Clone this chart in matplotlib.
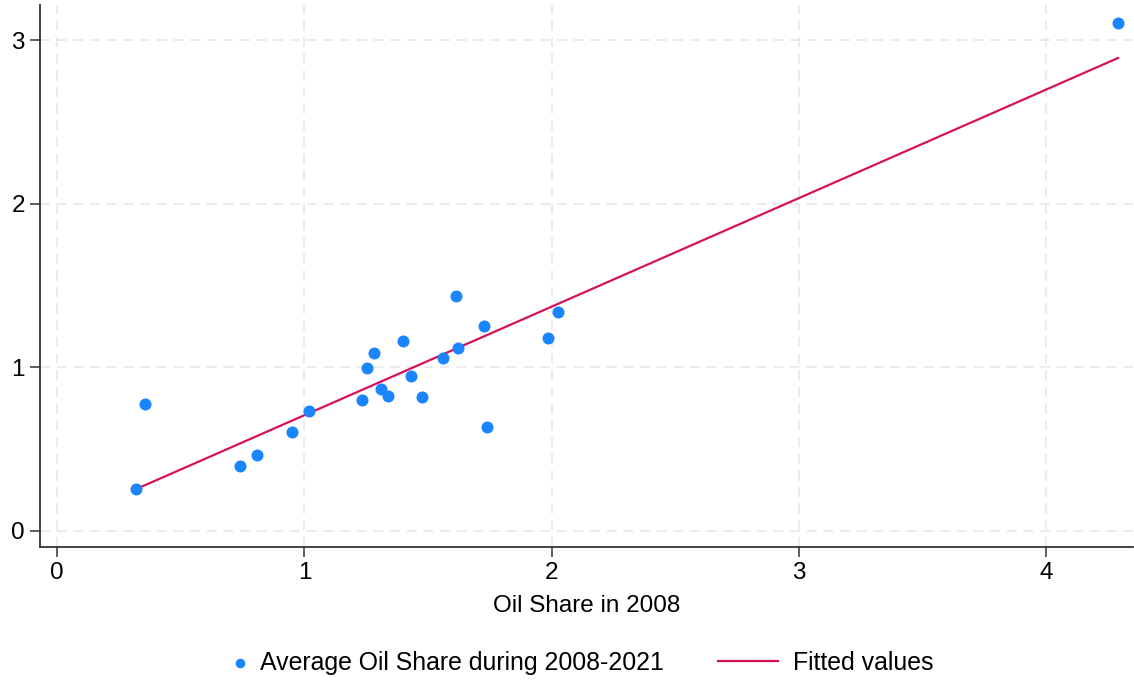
import numpy as np
import matplotlib.pyplot as plt

plt.rcParams['font.family'] = ['Liberation Sans', 'DejaVu Sans']

# oil share in 2008 vs average share 2008-2021
oil_2008 = [0.319, 0.356, 0.740, 0.809, 0.950, 1.019, 1.232, 1.252, 1.281,
            1.310, 1.340, 1.400, 1.430, 1.477, 1.560, 1.612, 1.623, 1.728,
            1.737, 1.985, 2.026, 4.290]
oil_avg = [0.257, 0.776, 0.397, 0.464, 0.605, 0.733, 0.800, 0.998, 1.087,
           0.867, 0.825, 1.159, 0.947, 0.817, 1.059, 1.437, 1.118, 1.254,
           0.637, 1.179, 1.336, 3.103]
x_ticks = [0, 1, 2, 3, 4]
y_ticks = [0, 1, 2, 3]

blue = '#1a85ff'
red = '#d41159'
axis_col = '#333333'
fs = 17.5
leg_fs = 17.9

x = np.array(oil_2008)
y = np.array(oil_avg)
slope, intercept = np.polyfit(x, y, 1)
xs = np.array([x.min(), x.max()])

fig = plt.figure(figsize=(11.34, 6.84), dpi=100)
ax = fig.add_axes([0.0353, 0.2003, 0.9637, 0.7924])

pts = ax.scatter(x, y, s=75, color=blue, linewidths=0, zorder=3)
fit, = ax.plot(xs, intercept + slope * xs, color=red, lw=1.6, zorder=2)

ax.set_xlim(-0.069, 4.35)
ax.set_ylim(-0.098, 3.215)
ax.set_xticks(x_ticks)
ax.set_yticks(y_ticks)
ax.tick_params(labelsize=fs, length=7, width=1.1, color=axis_col, pad=4)
ax.grid(True, color='#e8e8e8', linestyle=(0, (6, 4)), linewidth=1.2)
ax.set_axisbelow(True)

for side in ['top', 'right']:
    ax.spines[side].set_visible(False)
for side in ['left', 'bottom']:
    ax.spines[side].set_color(axis_col)
    ax.spines[side].set_linewidth(1.3)

ax.set_xlabel('Oil Share in 2008', fontsize=fs, labelpad=8)

# two legend entries placed separately so the marker key stays narrow
leg1 = fig.legend([pts], ['Average Oil Share during 2008-2021'],
                  loc='center left', bbox_to_anchor=(228 / 1134, 0.0307),
                  frameon=False, fontsize=leg_fs, borderpad=0, borderaxespad=0,
                  handlelength=1.0, handletextpad=0.3, markerscale=0.8)
leg2 = fig.legend([fit], ['Fitted values'],
                  loc='center left', bbox_to_anchor=(718 / 1134, 0.0307),
                  frameon=False, fontsize=leg_fs, borderpad=0, borderaxespad=0,
                  handlelength=2.4, handletextpad=0.6)

fig.savefig('out.png', dpi=100)
